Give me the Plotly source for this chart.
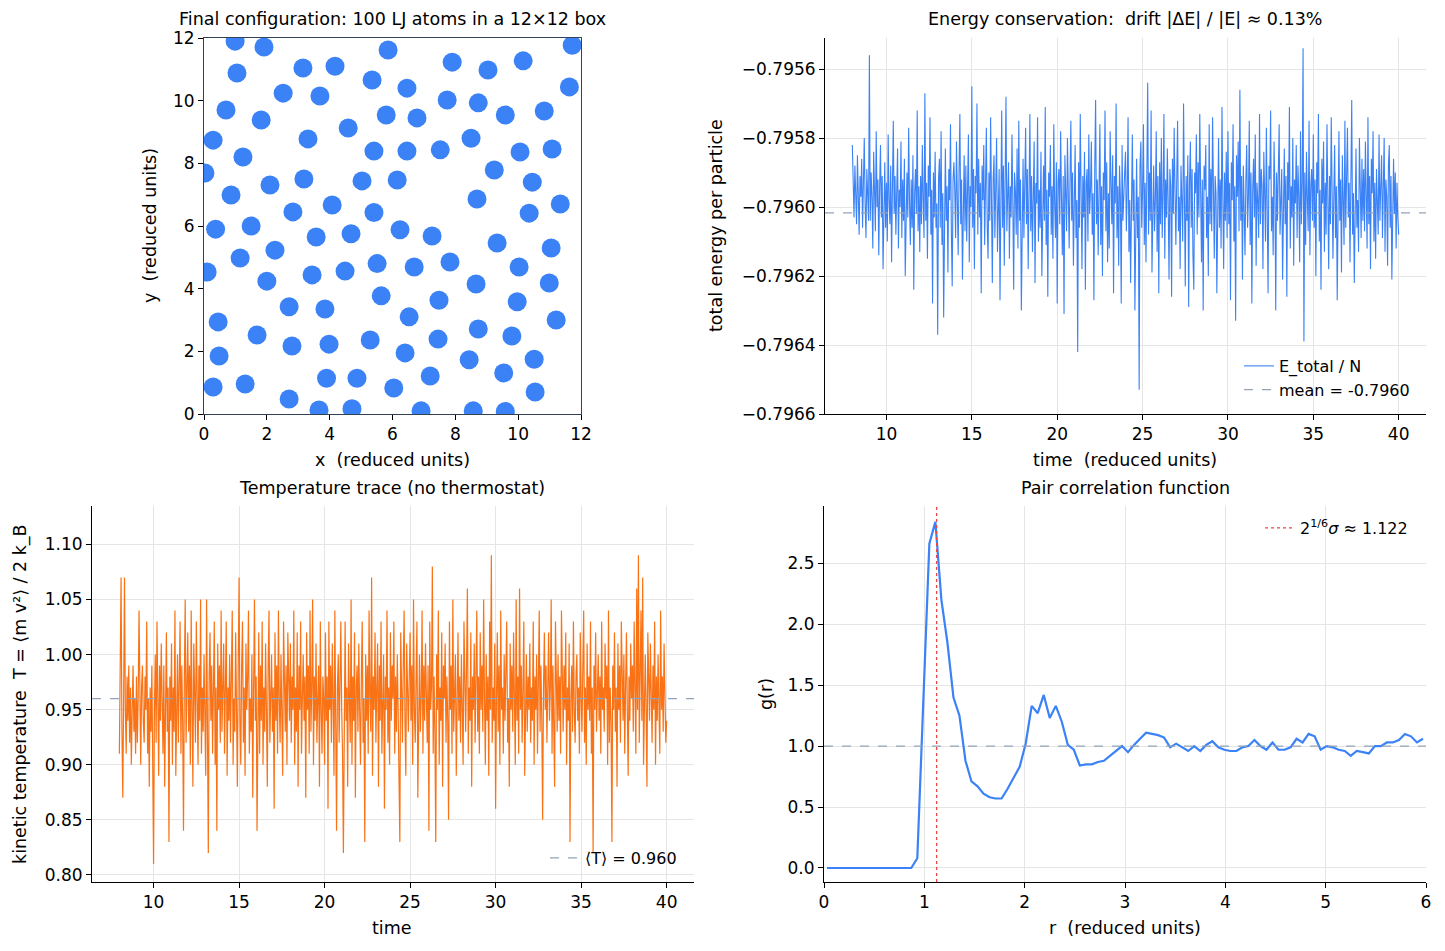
import plotly.graph_objects as go

W, H = 1445, 951
FONT = "DejaVu Sans"
BLUE = "#3b82f6"
ORANGE = "#f97316"
GRAY = "#94a3b8"
RED = "#ef4444"

# ---------------- data ----------------
atom_x = [0.99, 1.91, 11.72, 1.05, 3.15, 4.17, 5.35, 5.86, 6.46, 7.90,
          9.04, 10.16, 11.63, 0.70, 2.52, 3.69, 1.82, 4.59, 5.80, 6.78,
          7.74, 8.73, 9.59, 10.83, 0.29, 3.31, 1.24, 5.41, 6.46, 7.52,
          8.50, 10.06, 11.08, 0.03, 0.86, 2.10, 3.18, 5.03, 6.15, 9.24,
          10.45, 11.34, 8.69, 4.08, 2.83, 5.41, 10.35, 0.37, 1.50, 3.57,
          4.68, 6.24, 7.26, 2.26, 9.33, 11.05, 1.15, 0.10, 2.00, 3.44,
          4.49, 5.51, 6.69, 7.83, 10.03, 7.48, 5.64, 3.85, 2.71, 8.66,
          9.97, 10.99, 0.45, 6.53, 11.21, 1.69, 2.80, 3.98, 5.29, 7.45,
          8.73, 9.80, 0.48, 6.40, 8.44, 10.51, 3.90, 4.87, 7.20, 9.54,
          0.29, 1.31, 6.04, 10.54, 2.71, 3.66, 4.71, 6.91, 8.57, 9.59]
atom_y = [11.90, 11.71, 11.77, 10.88, 11.04, 11.10, 10.66, 11.62, 10.40, 11.23,
          10.98, 11.27, 10.44, 9.70, 10.24, 10.15, 9.38, 9.13, 9.54, 9.45,
          10.02, 9.93, 9.54, 9.67, 8.74, 8.78, 8.20, 8.39, 8.39, 8.43,
          8.80, 8.36, 8.46, 7.69, 6.99, 7.31, 7.50, 7.44, 7.47, 7.79,
          7.40, 6.70, 6.86, 6.67, 6.45, 6.43, 6.41, 5.90, 6.00, 5.65,
          5.75, 5.88, 5.68, 5.23, 5.46, 5.30, 4.98, 4.53, 4.24, 4.44,
          4.56, 4.80, 4.69, 4.85, 4.69, 3.63, 3.77, 3.35, 3.42, 4.15,
          3.58, 4.18, 2.94, 3.10, 3.00, 2.52, 2.17, 2.23, 2.36, 2.39,
          2.71, 2.49, 1.85, 1.95, 1.73, 1.75, 1.14, 1.14, 1.21, 1.31,
          0.86, 0.96, 0.83, 0.70, 0.48, 0.13, 0.17, 0.10, 0.10, 0.08]

t_start, dt = 8.0, 0.05

temperature = [
    0.91, 0.99, 1.07, 0.93, 0.87, 0.96, 1.07, 0.95, 0.91, 0.98, 0.94, 0.99, 0.92, 0.97, 0.90, 0.95, 0.99, 0.93, 0.96, 0.91,
    0.98, 0.92, 0.96, 1.04, 0.93, 0.90, 0.97, 0.99, 0.94, 0.92, 0.98, 0.95, 1.03, 0.91, 0.96, 0.88, 0.97, 0.93, 0.99, 0.90,
    0.81, 0.95, 1.00, 0.92, 1.03, 0.96, 0.89, 0.99, 0.94, 1.01, 0.97, 0.91, 0.99, 0.88, 0.95, 1.02, 0.93, 0.97, 0.83, 0.98,
    0.94, 1.01, 0.90, 0.97, 0.93, 1.04, 0.89, 0.98, 1.00, 0.92, 0.96, 1.03, 0.91, 0.99, 0.94, 0.84, 0.98, 1.05, 0.92, 0.96,
    1.02, 0.93, 0.99, 0.90, 1.04, 0.95, 0.88, 1.01, 0.96, 0.92, 1.03, 0.97, 0.90, 0.99, 0.94, 1.05, 0.91, 0.97, 0.93, 1.00,
    0.95, 0.89, 1.05, 0.92, 0.82, 0.98, 1.02, 0.94, 0.99, 0.91, 0.96, 1.03, 0.90, 0.97, 0.84, 1.01, 0.95, 0.99, 0.92, 1.04,
    0.93, 0.98, 1.01, 0.91, 0.96, 1.03, 0.89, 0.97, 0.94, 1.00, 0.92, 0.99, 1.04, 0.90, 0.96, 0.93, 1.02, 0.95, 0.88, 0.99,
    1.07, 0.94, 0.90, 0.99, 1.03, 0.92, 0.97, 0.89, 1.01, 0.95, 0.98, 1.04, 0.91, 0.96, 0.93, 1.00, 0.87, 0.97, 1.05, 0.94,
    0.98, 0.84, 0.96, 1.02, 0.91, 0.99, 0.94, 1.03, 0.90, 0.97, 0.93, 1.01, 0.95, 0.88, 0.99, 1.04, 0.92, 0.96, 1.00, 0.93,
    0.97, 0.86, 1.02, 0.94, 0.99, 0.91, 1.04, 0.96, 0.92, 1.00, 0.95, 0.89, 1.03, 0.97, 0.93, 0.99, 0.90, 1.02, 0.96, 0.94,
    1.01, 0.92, 0.98, 0.95, 1.04, 0.90, 0.97, 0.93, 1.02, 0.88, 0.99, 0.95, 1.03, 0.91, 0.96, 1.00, 0.94, 0.98, 0.87, 1.02,
    0.95, 0.99, 0.91, 1.04, 0.93, 0.97, 1.05, 0.90, 0.98, 0.94, 1.01, 0.92, 0.96, 0.99, 0.88, 1.03, 0.95, 0.91, 0.98, 0.96,
    0.90, 1.02, 0.94, 0.98, 0.86, 1.03, 0.95, 0.99, 0.92, 1.01, 0.96, 0.89, 1.04, 0.93, 0.84, 0.97, 1.00, 0.92, 0.98, 1.03,
    0.95, 0.91, 0.82, 0.99, 1.03, 0.94, 0.97, 0.88, 1.01, 0.96, 0.92, 1.05, 0.90, 0.98, 0.94, 1.02, 0.87, 0.97, 0.99, 0.93,
    1.01, 0.95, 0.90, 0.98, 1.03, 0.92, 0.96, 0.83, 1.00, 0.94, 0.99, 0.91, 1.04, 0.96, 0.93, 1.07, 0.89, 0.98, 0.95, 1.02,
    0.92, 0.97, 1.01, 0.88, 0.99, 0.94, 1.03, 0.91, 0.96, 1.00, 0.86, 0.98, 0.95, 1.04, 0.92, 0.97, 0.90, 1.02, 0.94, 0.99,
    0.96, 1.03, 0.91, 0.98, 0.93, 1.00, 0.95, 0.90, 0.83, 1.02, 0.97, 0.92, 0.99, 1.04, 0.94, 0.89, 1.01, 0.96, 0.93, 0.98,
    1.02, 0.94, 0.99, 0.90, 1.05, 0.95, 0.92, 0.98, 1.03, 0.87, 0.97, 1.00, 0.93, 0.96, 1.04, 0.91, 0.99, 0.94, 1.01, 0.96,
    0.92, 0.99, 0.84, 1.03, 0.95, 0.97, 1.08, 0.91, 0.98, 0.93, 0.83, 1.00, 0.95, 1.04, 0.90, 0.97, 0.94, 1.02, 0.88, 0.99,
    0.96, 1.01, 0.92, 0.98, 0.94, 0.85, 1.03, 0.95, 0.99, 0.91, 1.05, 0.93, 0.97, 1.00, 0.89, 0.96, 1.02, 0.94, 0.98, 0.92,
    1.00, 0.95, 0.90, 1.03, 0.96, 0.93, 0.99, 1.06, 0.91, 0.97, 0.94, 1.02, 0.88, 0.98, 0.95, 1.01, 0.92, 0.97, 1.04, 0.93,
    0.98, 0.91, 1.02, 0.95, 0.99, 0.93, 1.05, 0.96, 0.90, 1.00, 0.94, 0.98, 0.89, 1.03, 0.95, 1.09, 0.92, 0.97, 0.94, 1.01,
    0.86, 0.96, 1.02, 0.93, 0.99, 0.90, 1.04, 0.95, 0.97, 0.91, 1.00, 0.94, 0.98, 1.03, 0.92, 0.96, 0.88, 1.01, 0.95, 0.99,
    0.93, 1.02, 0.96, 0.90, 1.05, 0.94, 0.98, 0.91, 1.06, 0.95, 0.99, 0.92, 0.97, 1.03, 0.89, 0.96, 1.00, 0.93, 0.98, 0.95,
    1.01, 0.92, 0.97, 0.94, 1.03, 0.90, 0.98, 0.95, 1.00, 0.91, 0.96, 1.04, 0.93, 0.99, 0.94, 0.85, 0.97, 1.02, 0.95, 0.99,
    0.92, 0.98, 1.02, 0.94, 0.97, 1.05, 0.91, 0.99, 0.95, 0.88, 1.03, 0.96, 0.93, 1.00, 0.94, 0.98, 0.91, 1.04, 0.96, 0.93,
    0.99, 0.95, 1.02, 0.90, 0.97, 0.94, 1.01, 0.83, 0.96, 0.99, 0.93, 1.03, 0.95, 0.92, 0.98, 1.00, 0.94, 0.97, 0.91, 1.02,
    0.96, 0.93, 0.99, 1.04, 0.92, 0.97, 0.90, 1.01, 0.95, 0.98, 0.94, 1.03, 0.91, 0.97, 0.82, 0.99, 0.95, 1.02, 0.93, 0.96,
    1.00, 0.94, 0.98, 0.91, 1.03, 0.95, 0.97, 0.93, 1.01, 0.96, 0.99, 0.90, 1.04, 0.92, 0.97, 0.94, 0.83, 0.99, 0.95, 1.02,
    0.93, 0.97, 0.88, 1.01, 0.95, 0.99, 0.92, 1.03, 0.96, 0.94, 1.00, 0.91, 0.97, 1.02, 0.95, 0.89, 0.98, 0.94, 1.01, 0.96,
    0.99, 0.93, 1.03, 0.96, 0.91, 1.06, 0.95, 1.09, 0.92, 0.98, 1.04, 0.94, 1.07, 0.90, 0.97, 1.00, 0.95, 0.88, 1.02, 0.96,
    0.94, 1.01, 0.97, 0.92, 0.99, 0.95, 1.03, 0.90, 0.98, 0.94, 1.00, 0.96, 0.91, 1.04, 0.95, 0.98, 0.93, 1.01, 0.97, 0.92,
    0.94]
T_mean = 0.960

# energy read as deviation from -0.79600, in units of 1e-5
energy_ref = -0.79600
energy_dev_1e5 = [
    18, 4, -3, 12, 6, -5, 15, 2, -8, 9, 3, 14, -6, 7, 20, 1, -9, 11, 5, -4,
    44, -4, 10, 3, -12, 16, 5, -7, 22, 0, 8, -14, 6, 18, -3, 9, -18, 4, 13, -6,
    7, -10, 21, 2, -5, 12, -16, 6, 25, -2, 9, -8, 3, 17, -12, 5, 0, 19, -9, 8,
    -4, 14, -20, 6, 10, -3, 23, 1, -11, 8, -6, 15, -24, 4, 11, -2, 28, -7, 6, -13,
    9, -5, 18, 2, -9, 33, -4, 7, -15, 12, 3, 26, -8, 5, -28, 10, -3, 16, -6, 1,
    -37, 8, 14, -6, 22, -11, 4, -32, 9, 17, -4, 6, -19, 11, 2, 24, -7, -23, 8, 13,
    5, -9, 19, 1, -14, 10, 27, -5, 8, -21, 3, 15, -7, 12, -10, 4, 21, -16, 6, 0,
    35, -6, 11, -18, 9, 4, 30, -8, 14, -3, 7, -25, 12, 2, 18, -11, 6, 23, -5, -15,
    10, -4, 26, 3, -22, 8, 15, -9, 5, 20, -13, 1, 11, -27, 7, 28, -6, 12, -17, 4,
    32, -7, 9, 13, -15, 6, -3, 21, 2, -24, 10, 5, -8, 17, -12, 25, -4, 8, -30, 3,
    14, -9, 6, 23, -5, 11, -18, 2, 27, -7, 9, -13, 4, 19, -22, 7, 1, 26, -10, 5,
    -6, 16, -20, 8, 12, -4, 29, -11, 5, -26, 10, 3, 18, -8, 6, -15, 24, 1, -9, 13,
    -28, 7, 11, -5, 22, 3, -14, 9, -31, 15, 4, -7, 20, 1, -12, 8, 25, -4, 10, -17,
    6, 18, -9, 2, -42, 13, -6, 27, 4, -18, 9, -3, 16, -24, 7, 11, -10, 21, -2, 5,
    19, -8, 4, -27, 12, 31, -5, 8, -14, 3, 24, -11, 6, -20, 10, 2, 28, -7, 13, -16,
    4, -12, 22, 7, -5, 15, -25, 9, 1, 30, -9, 6, -17, 12, 3, -28, 18, -4, 8, 10,
    16, -7, 5, 26, -13, 2, -22, 11, 21, -4, 8, -30, 6, 14, -9, 3, -53, 12, 19, -6,
    5, 24, -11, 7, -16, 3, 36, -8, 10, -4, 28, -19, 6, 12, -7, 2, 22, -13, 9, -25,
    13, -5, 20, -9, 4, 27, -15, 8, -3, 17, 1, -21, 11, 6, -26, 14, -2, 23, 5, -11,
    8, 25, -7, 3, -18, 12, 2, -10, 30, 6, -23, 9, -4, 15, -29, 7, 19, -6, 11, -14,
    -24, 10, 4, 21, -8, 13, -3, 27, 2, -16, 8, -30, 12, 5, 18, -9, 3, -20, 24, -5,
    11, -7, 26, 1, -15, 9, 4, -25, 14, 20, -6, 8, -12, 29, 3, -18, 10, -4, 16, -9,
    22, -5, 7, -27, 13, 2, 24, -10, 6, -33, 15, 3, 19, -7, 34, -4, 9, -21, 12, 1,
    -14, 8, 18, -6, 3, 25, -11, 10, -28, 5, 14, -3, 21, -17, 7, 2, -9, 27, -5, 11,
    6, -18, 16, 4, -10, 23, 1, -25, 12, 8, 28, -7, 3, -14, 19, 5, -30, 10, -4, 15,
    24, -8, 4, 11, -21, 6, 17, -5, 9, -26, 13, 2, 29, -12, 6, -3, 20, -17, 8, 1,
    18, -9, 12, 3, -16, 22, -5, 7, 46, -39, 10, -11, 16, 2, -7, 25, -14, 6, 11, -4,
    21, -6, 8, -20, 13, 4, 27, -10, 5, -24, 14, 1, 19, -13, 7, -8, 24, 3, -18, 9,
    -5, 26, 10, -15, 3, 18, -9, 6, -27, 12, 22, -4, 8, -19, 15, 2, -11, 25, -6, 9,
    23, -3, 7, -16, 12, 31, -8, 4, -22, 10, 17, -6, 2, -13, 20, 6, -9, 14, -4, 11,
    -7, 19, 3, -12, 26, -5, 9, -18, 14, 4, 22, -10, 7, -15, 11, 1, -8, 21, -4, 6,
    15, -9, 5, 20, -13, 8, 3, -17, 12, 18, -6, 9, -21, 4, 14, -2, 10, -12, 7, -3,
    -8]
energy_mean = -0.796017

g_r = [0, 0, 0, 0, 0, 0, 0, 0, 0, 0,
       0, 0, 0, 0, 0, 0.08, 1.37, 2.66, 2.84, 2.20,
       1.85, 1.40, 1.25, 0.88, 0.71, 0.67, 0.61, 0.58, 0.57, 0.57,
       0.65, 0.74, 0.83, 1.02, 1.33, 1.27, 1.42, 1.23, 1.33, 1.20,
       1.01, 0.97, 0.84, 0.85, 0.85, 0.87, 0.88, 0.92, 0.96, 1.00,
       0.95, 1.01, 1.06, 1.11, 1.10, 1.09, 1.07, 0.99, 1.02, 0.99,
       0.96, 1.00, 0.96, 1.01, 1.04, 0.99, 0.97, 0.96, 0.96, 0.99,
       1.00, 1.05, 1.00, 0.97, 1.03, 0.97, 0.97, 0.99, 1.06, 1.03,
       1.10, 1.08, 0.97, 1.00, 0.99, 0.97, 0.96, 0.92, 0.96, 0.95,
       0.94, 1.00, 1.00, 1.03, 1.03, 1.05, 1.10, 1.08, 1.03, 1.06]
r_bin = 0.06
r_min = 2 ** (1 / 6)

time_T = [t_start + dt * i for i in range(len(temperature))]
time_E = [t_start + dt * i for i in range(len(energy_dev_1e5))]
energy = [energy_ref + d * 1e-5 for d in energy_dev_1e5]
r_centers = [r_bin * (i + 0.5) for i in range(len(g_r))]


# ---------------- layout helpers ----------------
def xd(l, r):
    return [l / W, r / W]


def yd(top, bottom):
    return [1 - bottom / H, 1 - top / H]


def axis(**kw):
    base = dict(showline=True, linecolor="black", linewidth=1,
                ticks="outside", ticklen=5, tickwidth=1, tickcolor="black",
                tickfont=dict(family=FONT, size=17, color="black"),
                showgrid=True, gridcolor="#e5e5e5", gridwidth=1,
                zeroline=False, mirror=False, automargin=False)
    base.update(kw)
    return base


fig = go.Figure()

# TL scatter
fig.add_trace(go.Scatter(x=atom_x, y=atom_y, mode="markers", xaxis="x", yaxis="y",
                         marker=dict(size=19, color=BLUE, line=dict(width=0)),
                         showlegend=False, cliponaxis=True))

# TR energy
fig.add_trace(go.Scatter(x=time_E, y=energy, mode="lines", xaxis="x2", yaxis="y2",
                         line=dict(color=BLUE, width=1.1), name="E_total / N",
                         legend="legend"))
fig.add_trace(go.Scatter(x=[None], y=[None], mode="lines", xaxis="x2", yaxis="y2",
                         line=dict(color=GRAY, width=1.2, dash="dash"),
                         name="mean = -0.7960", legend="legend"))

# BL temperature
fig.add_trace(go.Scatter(x=time_T, y=temperature, mode="lines", xaxis="x3", yaxis="y3",
                         line=dict(color=ORANGE, width=1.2), showlegend=False))
fig.add_trace(go.Scatter(x=[None], y=[None], mode="lines", xaxis="x3", yaxis="y3",
                         line=dict(color=GRAY, width=1.2, dash="dash"),
                         name="⟨T⟩ = 0.960", legend="legend2"))

# BR g(r)
fig.add_trace(go.Scatter(x=r_centers, y=g_r, mode="lines", xaxis="x4", yaxis="y4",
                         line=dict(color=BLUE, width=2.2), showlegend=False))
fig.add_trace(go.Scatter(x=[None], y=[None], mode="lines", xaxis="x4", yaxis="y4",
                         line=dict(color=RED, width=1.3, dash="dot"),
                         name="2<sup>1/6</sup><i>σ</i> ≈ 1.122", legend="legend3"))

shapes = [
    dict(type="line", xref="x2 domain", yref="y2", x0=0, x1=1, y0=energy_mean, y1=energy_mean,
         line=dict(color=GRAY, width=1.2, dash="dash")),
    dict(type="line", xref="x3 domain", yref="y3", x0=0, x1=1, y0=T_mean, y1=T_mean,
         line=dict(color=GRAY, width=1.2, dash="dash")),
    dict(type="line", xref="x4 domain", yref="y4", x0=0, x1=1, y0=1.0, y1=1.0,
         line=dict(color=GRAY, width=1.2, dash="dash")),
    dict(type="line", xref="x4", yref="y4 domain", x0=r_min, x1=r_min, y0=0, y1=1,
         line=dict(color=RED, width=1.3, dash="dot")),
]

e_ticks = [-0.7966, -0.7964, -0.7962, -0.7960, -0.7958, -0.7956]
e_text = ["\u2212%.4f" % abs(v) for v in e_ticks]
T_ticks = [0.80, 0.85, 0.90, 0.95, 1.00, 1.05, 1.10]
g_ticks = [0.0, 0.5, 1.0, 1.5, 2.0, 2.5]

dark = "#334155"
legend_font = dict(family=FONT, size=16, color="black")
fig.update_layout(
    width=W, height=H, autosize=False,
    margin=dict(l=0, r=0, t=0, b=0, pad=0, autoexpand=False),
    paper_bgcolor="white", plot_bgcolor="white",
    font=dict(family=FONT, size=17, color="black"),
    xaxis=axis(domain=xd(204, 581), anchor="y", range=[0, 12], tickvals=list(range(0, 13, 2)),
               showgrid=False, mirror=True, linecolor=dark),
    yaxis=axis(domain=yd(38, 414), anchor="x", range=[0, 12], tickvals=list(range(0, 13, 2)),
               showgrid=False, mirror=True, linecolor=dark),
    xaxis2=axis(domain=xd(825, 1426), anchor="y2", range=[6.4, 41.6],
                tickvals=[10, 15, 20, 25, 30, 35, 40]),
    yaxis2=axis(domain=yd(38, 414), anchor="x2", range=[-0.7966, -0.79551],
                tickvals=e_ticks, ticktext=e_text),
    xaxis3=axis(domain=xd(92, 694), anchor="y3", range=[6.4, 41.6],
                tickvals=[10, 15, 20, 25, 30, 35, 40]),
    yaxis3=axis(domain=yd(506, 882), anchor="x3", range=[0.7936, 1.1348],
                tickvals=T_ticks, ticktext=["%.2f" % v for v in T_ticks]),
    xaxis4=axis(domain=xd(824, 1426), anchor="y4", range=[0, 6], tickvals=list(range(0, 7))),
    yaxis4=axis(domain=yd(506, 882), anchor="x4", range=[-0.115, 2.97],
                tickvals=g_ticks, ticktext=["%.1f" % v for v in g_ticks]),
    shapes=shapes,
    legend=dict(x=1239 / W, xanchor="left", y=1 - 349 / H, yanchor="top",
                bgcolor="rgba(0,0,0,0)", font=legend_font),
    legend2=dict(x=545 / W, xanchor="left", y=1 - 841 / H, yanchor="top",
                 bgcolor="rgba(0,0,0,0)", font=legend_font),
    legend3=dict(x=1260 / W, xanchor="left", y=1 - 511 / H, yanchor="top",
                 bgcolor="rgba(0,0,0,0)", font=legend_font),
)

ann = []


def text(x, y, s, size=17.5, angle=0):
    ann.append(dict(x=x / W, y=1 - y / H, xref="paper", yref="paper", text=s,
                    showarrow=False, xanchor="center", yanchor="middle", textangle=angle,
                    font=dict(family=FONT, size=size, color="black")))


# titles
text(392, 19, "Final configuration: 100 LJ atoms in a 12×12 box")
text(1125, 19, "Energy conservation:  drift |ΔE| / |E| ≈ 0.13%")
text(392, 488, "Temperature trace (no thermostat)")
text(1125, 488, "Pair correlation function")
# axis labels
text(392, 460, "x  (reduced units)")
text(150, 226, "y  (reduced units)", angle=-90)
text(1125, 460, "time  (reduced units)")
text(716, 226, "total energy per particle", angle=-90)
text(392, 928, "time")
text(20, 694, "kinetic temperature  T = ⟨m v²⟩ / 2 k_B", angle=-90)
text(1125, 928, "r  (reduced units)")
text(766, 694, "g(r)", angle=-90)

fig.update_layout(annotations=ann)
fig.write_html("out.html")
